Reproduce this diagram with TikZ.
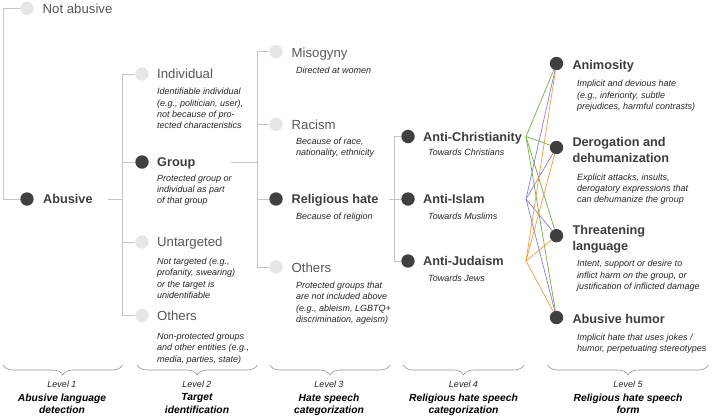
\documentclass[tikz,border=0pt]{standalone}
\usepackage{fontspec}
\setmainfont{Liberation Sans}
\usetikzlibrary{calc,decorations.pathreplacing}

\definecolor{darkdot}{HTML}{404040}
\definecolor{lightdot}{HTML}{E6E6E6}
\definecolor{offtext}{HTML}{575757}
\definecolor{ontext}{HTML}{3D3D3D}
\definecolor{desctext}{HTML}{262626}
\definecolor{treeline}{HTML}{C6C6C6}
\definecolor{chrline}{HTML}{6DB33F}
\definecolor{islline}{HTML}{8A7BE0}
\definecolor{judline}{HTML}{F59A3A}

\begin{document}
\begin{tikzpicture}[x=1pt, y=-1pt,
    offdot/.style={circle, fill=lightdot, minimum size=13.4pt, inner sep=0pt},
    ondot/.style={offdot, fill=darkdot},
    offtitle/.style={anchor=base west, inner sep=0pt, text=offtext,
      font=\fontsize{13.2}{15.6}\selectfont},
    ontitle/.style={anchor=base west, inner sep=0pt, text=ontext, align=left,
      font=\fontsize{12.7}{15.6}\selectfont\bfseries},
    desc/.style={anchor=north west, inner sep=0pt, text=desctext, align=left,
      font=\fontsize{9}{11.3}\selectfont\itshape},
    tree/.style={draw=treeline, line width=0.9pt},
    rel/.style={line width=0.7pt},
    brc/.style={draw=gray!85, line width=0.6pt,
      decorate, decoration={brace, mirror, amplitude=10pt}},
    lvl/.style={anchor=base, inner sep=0pt, text=desctext,
      font=\fontsize{9}{11}\selectfont\itshape},
    lvlname/.style={anchor=north, inner sep=0pt, text=black, align=center,
      font=\fontsize{10.3}{12.3}\selectfont\bfseries\itshape}]
  \useasboundingbox (0,0) rectangle (712,418);

  % level 1
  \node[offdot] (nab) at (27,8.3) {};
  \node[offtitle] (nabt) at (42.5,13) {Not abusive};
  \node[ondot] (ab) at (27,199) {};
  \node[ontitle] (abt) at (43,203.5) {Abusive};

  % level 2
  \node[offdot] (ind) at (142,74) {};
  \node[offtitle] (indt) at (157,78.6) {Individual};
  \node[desc] (indd) at (157,88) {Identifiable individual\\(e.g., politician, user),\\not because of pro-\\tected characteristics};
  \node[ondot] (grp) at (142,162) {};
  \node[ontitle] (grpt) at (157,166.6) {Group};
  \node[desc] (grpd) at (157,174.5) {Protected group or\\individual as part\\of that group};
  \node[offdot] (unt) at (142,242) {};
  \node[offtitle] (untt) at (157,246.8) {Untargeted};
  \node[desc] (untd) at (157,257.8) {Not targeted (e.g.,\\profanity, swearing)\\or the target is\\unidentifiable};
  \node[offdot] (othb) at (142,315.5) {};
  \node[offtitle] (othbt) at (157,320) {Others};
  \node[desc] (othbd) at (157,332.8) {Non-protected groups\\and other entities (e.g.,\\media, parties, state)};

  % level 3
  \node[offdot] (mis) at (276,51.7) {};
  \node[offtitle] (mist) at (291.5,57) {Misogyny};
  \node[desc] (misd) at (296,66.8) {Directed at women};
  \node[offdot] (rac) at (276,124.3) {};
  \node[offtitle] (ract) at (291.5,129) {Racism};
  \node[desc] (racd) at (296,137.8) {Because of race,\\nationality, ethnicity};
  \node[ondot] (relh) at (276,199) {};
  \node[ontitle] (relht) at (291.5,203.5) {Religious hate};
  \node[desc] (relhd) at (296,212.5) {Because of religion};
  \node[offdot] (othc) at (276,267) {};
  \node[offtitle] (othct) at (291.5,272) {Others};
  \node[desc] (othcd) at (296,281.8) {Protected groups that\\are not included above\\(e.g., ableism, LGBTQ+\\discrimination, ageism)};

  % level 4
  \node[ondot] (achr) at (408,136.5) {};
  \node[ontitle] (achrt) at (423,141) {Anti-Christianity};
  \node[desc] (achrd) at (428,148.8) {Towards Christians};
  \node[ondot] (aisl) at (408,199) {};
  \node[ontitle] (aislt) at (423,203.5) {Anti-Islam};
  \node[desc] (aisld) at (428,212.5) {Towards Muslims};
  \node[ondot] (ajud) at (408,261) {};
  \node[ontitle] (ajudt) at (423,265.5) {Anti-Judaism};
  \node[desc] (ajudd) at (428,274.5) {Towards Jews};

  % level 5
  \node[ondot] (anim) at (556.5,63.5) {};
  \node[ontitle] (animt) at (572.3,69.5) {Animosity};
  \node[desc] (animd) at (577,80.1) {Implicit and devious hate\\(e.g., inferiority, subtle\\prejudices, harmful contrasts)};
  \node[ondot] (derog) at (556.5,147.5) {};
  \node[ontitle, anchor=north west] (derogt) at (572.3,137.2) {Derogation and\\dehumanization};
  \node[desc] (derogd) at (577,173.5) {Explicit attacks, insults,\\derogatory expressions that\\can dehumanize the group};
  \node[ondot] (threat) at (556.5,235.7) {};
  \node[ontitle, anchor=north west] (threatt) at (572.3,225.5) {Threatening\\language};
  \node[desc] (threatd) at (577,260.1) {Intent, support or desire to\\inflict harm on the group, or\\justification of inflicted damage};
  \node[ondot] (humor) at (556.5,317.5) {};
  \node[ontitle] (humort) at (572.3,323) {Abusive humor};
  \node[desc] (humord) at (577,333.5) {Implicit hate that uses jokes /\\humor, perpetuating stereotypes};

  % trunks and stubs
  \coordinate (ta) at (3,0);
  \coordinate (tb) at (122,0);
  \coordinate (tc) at (257.3,0);
  \coordinate (td) at (394.3,0);
  \coordinate (abo) at (108,199);
  \coordinate (grpo) at (231,162);
  \coordinate (relho) at (389,199);
  \draw[tree] (nab) -- (nab -| ta) -- (ab -| ta) -- (ab);
  \draw[tree] (abo) -- (abo -| tb);
  \draw[tree] (ind -| tb) -- (othb -| tb);
  \foreach \n in {ind,grp,unt,othb}
    \draw[tree] (\n -| tb) -- (\n);
  \draw[tree] (grpo) -- (grpo -| tc);
  \draw[tree] (mis -| tc) -- (othc -| tc);
  \foreach \n in {mis,rac,relh,othc}
    \draw[tree] (\n -| tc) -- (\n);
  \draw[tree] (relho) -- (relho -| td);
  \draw[tree] (achr -| td) -- (ajud -| td);
  \foreach \n in {achr,aisl,ajud}
    \draw[tree] (\n -| td) -- (\n);

  % religion -> form
  \coordinate (achro) at (526,136.5);
  \coordinate (aislo) at (526,199);
  \coordinate (ajudo) at (526,261);
  \foreach \a/\c in {achro/chrline,aislo/islline,ajudo/judline}
    \foreach \b in {anim,derog,threat,humor}
      \draw[rel,\c] (\a) -- (\b);

  % levels
  \draw[brc] (3,365) -- (122.5,365);
  \draw[brc] (137.3,365) -- (257.3,365);
  \draw[brc] (270,365) -- (390,365);
  \draw[brc] (403.3,365) -- (524,365);
  \draw[brc] (547.7,365) -- (708.3,365);
  \node[lvl] (lva) at (62,387.5) {Level 1};
  \node[lvlname] (lna) at (62,393.6) {Abusive language\\detection};
  \node[lvl] (lvb) at (197,387.5) {Level 2};
  \node[lvlname] (lnb) at (197,393.6) {Target\\identification};
  \node[lvl] (lvc) at (329,387.5) {Level 3};
  \node[lvlname] (lnc) at (329,393.6) {Hate speech\\categorization};
  \node[lvl] (lvd) at (463.5,387.5) {Level 4};
  \node[lvlname] (lnd) at (463.5,393.6) {Religious hate speech\\categorization};
  \node[lvl] (lve) at (628,387.5) {Level 5};
  \node[lvlname] (lne) at (628,393.6) {Religious hate speech\\form};
\end{tikzpicture}
\end{document}
